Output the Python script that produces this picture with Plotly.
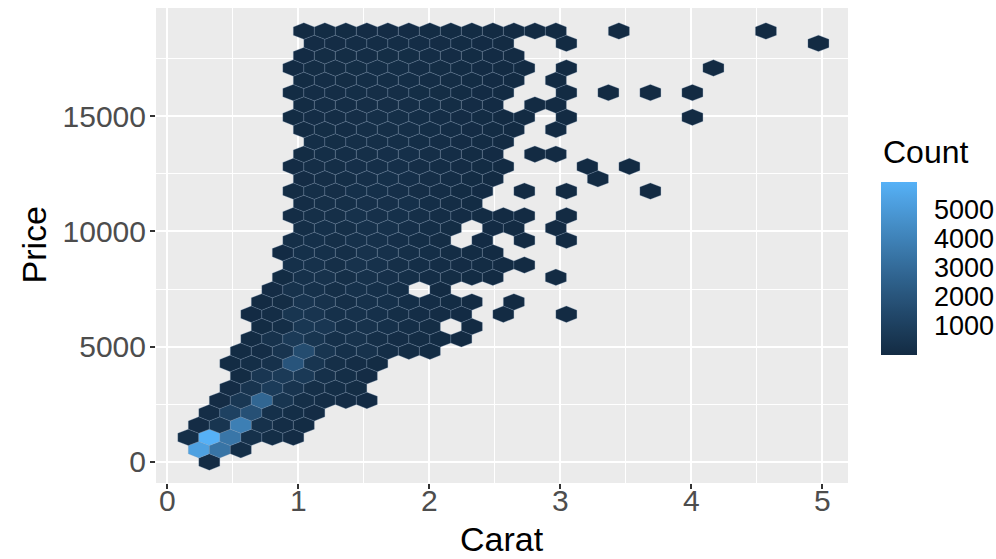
import math
import plotly.graph_objects as go

# ---- data -----------------------------------------------------------------
# Hexagonal binning of diamond carat vs price (30 bins each way).
CARAT_RANGE = (0.2, 5.01)
PRICE_RANGE = (326, 18823)
N_BINS = 30

# Bin counts per hex row. Each row lists segments of (first column, counts),
# columns counted in x-bin widths from zero, odd rows shifted half a bin.
HEX_ROWS = {
    0: [(2, [60])],
    1: [(1, [5300, 3400, 150])],
    2: [(1, [200, 5965, 3500, 300, 150, 60])],
    3: [(1, [60, 500, 3900, 300, 120, 40])],
    4: [(2, [100, 1100, 1800, 250, 150, 60])],
    5: [(2, [60, 600, 2800, 500, 200, 120, 60, 20])],
    6: [(3, [60, 450, 800, 450, 200, 150, 80])],
    7: [(3, [40, 550, 750, 700, 250, 150, 60])],
    8: [(3, [30, 150, 300, 2000, 500, 200, 100, 40])],
    9: [(3, [30, 120, 450, 1600, 500, 250, 350, 150, 80, 30])],
    10: [(4, [40, 350, 750, 500, 250, 350, 200, 120, 80, 40, 15])],
    11: [(4, [30, 150, 600, 550, 250, 350, 250, 150, 80]), (14, [10])],
    12: [(4, [20, 100, 500, 450, 250, 300, 250, 150, 100, 60, 20]), (16, [3]), (19, [1])],
    13: [(4, [10, 80, 450, 350, 200, 300, 250, 150, 100, 50, 15]), (16, [2])],
    14: [(5, [60, 350, 300, 200, 300, 250, 150]), (13, [15])],
    15: [(5, [30, 300, 350, 200, 300, 280, 180, 120, 80, 40, 10]), (18, [1])],
    16: [(6, [250, 300, 200, 350, 300, 200, 150, 100, 60, 30, 10, 4])],
    17: [(5, [20, 250, 250, 200, 350, 300, 200, 150, 80, 40, 10])],
    18: [(6, [200, 250, 180, 320, 300, 220, 150, 80]), (15, [20]), (17, [5]), (19, [1])],
    19: [(6, [150, 250, 200, 300, 300, 220, 150, 80]), (15, [25, 10]), (18, [2])],
    20: [(6, [120, 200, 180, 300, 280, 250, 180, 100, 60, 30, 10, 5]), (19, [1])],
    21: [(6, [100, 200, 180, 280, 280, 250, 150, 80, 30])],
    22: [(6, [80, 180, 160, 250, 250, 230, 170, 100, 50, 20]), (17, [3]), (19, [2]), (23, [1])],
    23: [(6, [70, 170, 150, 230, 250, 230, 170, 100, 50, 15]), (20, [1])],
    24: [(6, [60, 160, 150, 220, 230, 220, 160, 100, 60, 30, 8]), (20, [1]), (22, [1])],
    25: [(6, [50, 150, 140, 200, 220, 210, 160, 100, 50, 20]), (17, [4, 3])],
    26: [(7, [140, 130, 190, 200, 200, 150, 100, 60, 30, 10])],
    27: [(6, [40, 130, 120, 180, 190, 190, 150, 100, 60, 30, 10]), (18, [2])],
    28: [(6, [40, 120, 110, 170, 180, 180, 140, 100, 60, 30, 15, 5]), (19, [2]), (25, [1])],
    29: [(6, [35, 110, 100, 160, 170, 170, 140, 90, 60, 25]), (17, [5, 3])],
    30: [(6, [30, 100, 100, 150, 160, 160, 130, 90, 50, 25, 10]), (19, [2]), (21, [1]), (23, [1]), (25, [1])],
    31: [(6, [30, 100, 90, 140, 150, 150, 120, 80, 50, 25, 8]), (18, [2])],
    32: [(6, [25, 90, 80, 130, 140, 140, 120, 80, 50, 25, 10, 4]), (19, [2]), (26, [1])],
    33: [(6, [25, 80, 80, 120, 130, 130, 110, 70, 40, 20, 6])],
    34: [(7, [70, 70, 110, 120, 120, 100, 70, 40, 20, 6]), (19, [1]), (31, [1])],
    35: [(6, [15, 40, 40, 60, 60, 60, 50, 40, 30, 15, 8, 4, 2]), (21, [1]), (28, [1])],
}

X_TICKS = [0, 1, 2, 3, 4, 5]
Y_TICKS = [0, 5000, 10000, 15000]
COUNT_TICKS = [1000, 2000, 3000, 4000, 5000]

LOW_COLOR = "#132B43"
HIGH_COLOR = "#56B1F7"

# ---- colour ramp in CIELAB -------------------------------------------------
def _hex_to_rgb(h):
    h = h.lstrip("#")
    return [int(h[i:i + 2], 16) / 255 for i in (0, 2, 4)]


def _lin(c):
    return c / 12.92 if c <= 0.04045 else ((c + 0.055) / 1.055) ** 2.4


def _gam(c):
    c = min(max(c, 0.0), 1.0)
    return 12.92 * c if c <= 0.0031308 else 1.055 * c ** (1 / 2.4) - 0.055


WHITE = (0.95047, 1.0, 1.08883)


def rgb_to_lab(rgb):
    r, g, b = (_lin(c) for c in rgb)
    x = 0.4124 * r + 0.3576 * g + 0.1805 * b
    y = 0.2126 * r + 0.7152 * g + 0.0722 * b
    z = 0.0193 * r + 0.1192 * g + 0.9505 * b

    def f(t):
        return t ** (1 / 3) if t > 0.008856 else 7.787 * t + 16 / 116

    fx, fy, fz = f(x / WHITE[0]), f(y / WHITE[1]), f(z / WHITE[2])
    return (116 * fy - 16, 500 * (fx - fy), 200 * (fy - fz))


def lab_to_hex(lab):
    L, a, bb = lab
    fy = (L + 16) / 116
    fx = fy + a / 500
    fz = fy - bb / 200

    def finv(t):
        return t ** 3 if t ** 3 > 0.008856 else (t - 16 / 116) / 7.787

    x, y, z = finv(fx) * WHITE[0], finv(fy) * WHITE[1], finv(fz) * WHITE[2]
    r = 3.2406 * x - 1.5372 * y - 0.4986 * z
    g = -0.9689 * x + 1.8758 * y + 0.0415 * z
    b = 0.0557 * x - 0.2040 * y + 1.0570 * z
    return "#%02x%02x%02x" % tuple(round(_gam(c) * 255) for c in (r, g, b))


LAB_LOW = rgb_to_lab(_hex_to_rgb(LOW_COLOR))
LAB_HIGH = rgb_to_lab(_hex_to_rgb(HIGH_COLOR))


def ramp(t):
    return lab_to_hex(tuple(lo + (hi - lo) * t for lo, hi in zip(LAB_LOW, LAB_HIGH)))


# ---- hex geometry (as geom_hex builds it) ---------------------------------
wx = (CARAT_RANGE[1] - CARAT_RANGE[0]) / N_BINS
wy = (PRICE_RANGE[1] - PRICE_RANGE[0]) / N_BINS
y_origin = math.floor(PRICE_RANGE[0] / wy) * wy
row_step = wy * math.sqrt(3) / 2          # vertical distance between hex rows
dx = wx / 2
dy = wy / math.sqrt(3) / 2

all_counts = [c for segs in HEX_ROWS.values() for _, cs in segs for c in cs]
cmin, cmax = min(all_counts), max(all_counts)

shapes = []
for row, segments in HEX_ROWS.items():
    cy = y_origin + row * row_step
    shift = 0.5 * (row % 2)
    for first, counts in segments:
        for i, n in enumerate(counts):
            cx = (first + i + shift) * wx
            pts = [(cx + dx, cy + dy), (cx, cy + 2 * dy), (cx - dx, cy + dy),
                   (cx - dx, cy - dy), (cx, cy - 2 * dy), (cx + dx, cy - dy)]
            path = "M " + " L ".join(f"{px:.5f},{py:.3f}" for px, py in pts) + " Z"
            shapes.append(dict(
                type="path", path=path, xref="x", yref="y",
                fillcolor=ramp((n - cmin) / (cmax - cmin)),
                line=dict(color="rgba(125,150,180,0.45)", width=0.6),
                layer="above",
            ))

colorscale = [[k / 20, ramp(k / 20)] for k in range(21)]

# ---- layout geometry (pixels) ---------------------------------------------
W, H = 996, 559
L_M, R_M, T_M, B_M = 156, 148, 8, 76
plot_w = W - L_M - R_M
plot_h = H - T_M - B_M

bar_top_px, bar_len_px = 182, 173
bar_left_px, bar_thick = 881, 36
font_family = "Liberation Sans, Arial, sans-serif"

fig = go.Figure()
fig.add_trace(go.Scatter(
    x=[None], y=[None], mode="markers", showlegend=False, hoverinfo="skip",
    marker=dict(
        color=[cmin], cmin=cmin, cmax=cmax, colorscale=colorscale, showscale=True,
        colorbar=dict(
            x=(bar_left_px - L_M) / plot_w, xanchor="left",
            y=(T_M + plot_h - bar_top_px) / plot_h, yanchor="top",
            len=bar_len_px, lenmode="pixels",
            thickness=bar_thick, thicknessmode="pixels",
            xpad=0, ypad=0, outlinewidth=0,
            tickmode="array", tickvals=COUNT_TICKS,
            ticks="outside", ticklen=12, tickcolor="rgba(0,0,0,0)",
            tickfont=dict(family=font_family, size=27, color="black"),
        ),
    ),
))

# white tick marks drawn inside both edges of the colour bar
x_left = (bar_left_px - L_M) / plot_w
x_right = (bar_left_px + bar_thick - L_M) / plot_w
for v in COUNT_TICKS:
    frac = (v - cmin) / (cmax - cmin)
    ypx = bar_top_px + (1 - frac) * bar_len_px
    yp = (T_M + plot_h - ypx) / plot_h
    for xa, xb in ((x_left, x_left + 7 / plot_w), (x_right - 7 / plot_w, x_right)):
        shapes.append(dict(type="line", xref="paper", yref="paper",
                           x0=xa, x1=xb, y0=yp, y1=yp,
                           line=dict(color="rgba(255,255,255,0.85)", width=1.5)))

axis_common = dict(
    showgrid=True, gridcolor="white", gridwidth=2,
    zeroline=False, showline=False,
    ticks="outside", ticklen=5, tickwidth=2, tickcolor="#333333",
    tickfont=dict(family=font_family, size=30, color="#4D4D4D"),
    tickformat="d",
)

fig.update_layout(
    width=W, height=H,
    margin=dict(l=L_M, r=R_M, t=T_M, b=B_M, autoexpand=False),
    paper_bgcolor="white", plot_bgcolor="#EBEBEB",
    shapes=shapes,
    showlegend=False,
    xaxis=dict(range=[-0.0863, 5.196], tickmode="linear", tick0=0, dtick=1,
               minor=dict(dtick=0.5, tick0=0, showgrid=True, gridcolor="white", gridwidth=1),
               ticklabelstandoff=-14,
               **axis_common),
    yaxis=dict(range=[-911, 19688], tickmode="linear", tick0=0, dtick=5000,
               minor=dict(dtick=2500, tick0=0, showgrid=True, gridcolor="white", gridwidth=1),
               ticklabelstandoff=-2,
               **axis_common),
    annotations=[
        dict(text="Carat", xref="paper", yref="paper", x=0.5,
             y=-(539 - (T_M + plot_h)) / plot_h, xanchor="center", yanchor="middle",
             showarrow=False, font=dict(family=font_family, size=34, color="black")),
        dict(text="Price", xref="paper", yref="paper", x=-(L_M - 33) / plot_w,
             y=0.5, xanchor="center", yanchor="middle", textangle=-90,
             showarrow=False, font=dict(family=font_family, size=34, color="black")),
        dict(text="Count", xref="paper", yref="paper", x=(bar_left_px - L_M) / plot_w,
             y=(T_M + plot_h - 152) / plot_h, xanchor="left", yanchor="middle",
             showarrow=False, font=dict(family=font_family, size=32, color="black")),
    ],
)

fig.write_html("out.html")
